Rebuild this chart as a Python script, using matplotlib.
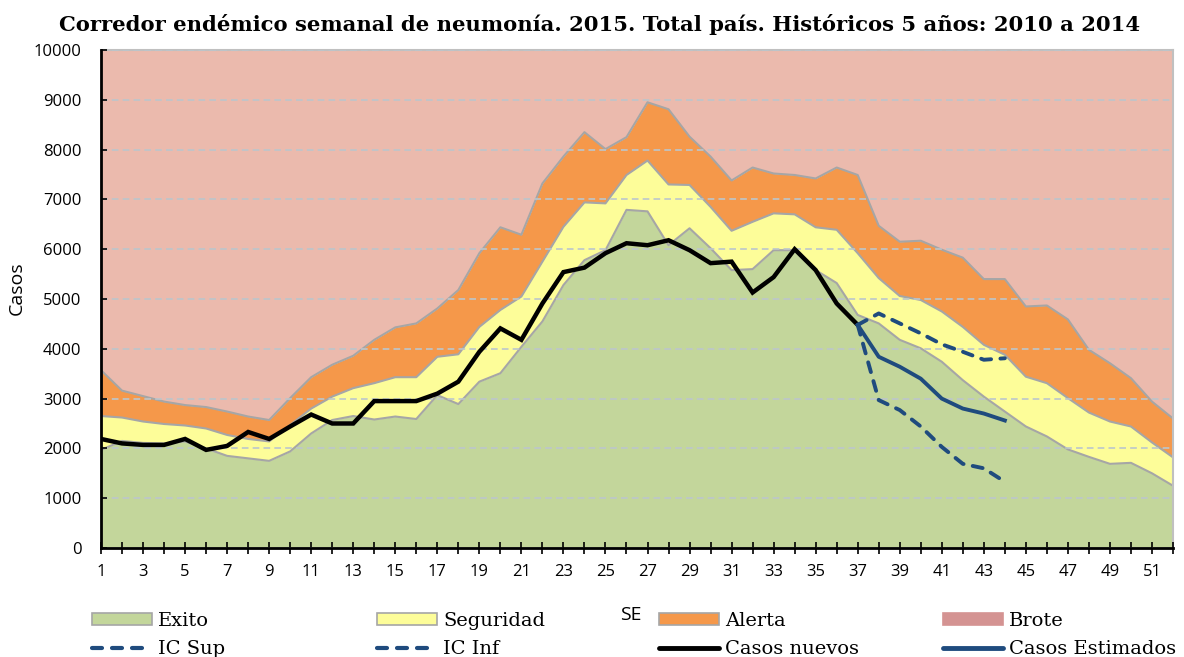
import matplotlib
matplotlib.use("Agg")
import matplotlib.pyplot as plt
from matplotlib.patches import Patch
from matplotlib.lines import Line2D
import numpy as np

plt.rcParams["font.family"] = ["Open Sans", "DejaVu Sans"]

weeks = list(range(1, 53))
exito = [1970, 2150, 2110, 2100, 2140, 2000, 1850, 1800, 1750, 1940, 2300, 2570, 2650, 2580,
         2640, 2590, 3070, 2890, 3340, 3510, 4040, 4550, 5280, 5780, 5980, 6790, 6760, 6080,
         6420, 6020, 5580, 5600, 5980, 5980, 5580, 5320, 4680, 4510, 4180, 4010, 3740, 3370,
         3040, 2740, 2440, 2240, 1980, 1830, 1690, 1710, 1500, 1250]
seguridad = [2650, 2620, 2540, 2490, 2460, 2400, 2270, 2190, 2140, 2470, 2800, 3040, 3210, 3310,
             3430, 3430, 3840, 3890, 4440, 4780, 5050, 5750, 6450, 6940, 6920, 7490, 7780, 7300,
             7290, 6850, 6370, 6550, 6720, 6700, 6440, 6390, 5920, 5420, 5060, 4980, 4750, 4440,
             4080, 3880, 3440, 3310, 3010, 2720, 2540, 2440, 2120, 1820]
alerta = [3570, 3160, 3050, 2940, 2870, 2830, 2740, 2640, 2570, 3010, 3430, 3680, 3860, 4180,
          4430, 4510, 4810, 5180, 5920, 6440, 6290, 7320, 7860, 8350, 8010, 8250, 8950, 8810,
          8260, 7860, 7380, 7640, 7520, 7490, 7420, 7640, 7490, 6470, 6150, 6170, 5990, 5830,
          5400, 5400, 4850, 4870, 4590, 3980, 3710, 3410, 2940, 2600]
brote_top = 10000

weeks_nuevos = list(range(1, 38))
casos_nuevos = [2190, 2100, 2070, 2070, 2190, 1970, 2050, 2330, 2190, 2440, 2680, 2500, 2500,
                2950, 2950, 2950, 3100, 3340, 3940, 4410, 4180, 4910, 5540, 5630, 5920, 6120,
                6080, 6180, 5980, 5720, 5750, 5130, 5440, 6000, 5580, 4910, 4480]
weeks_est = list(range(37, 45))
casos_estimados = [4480, 3840, 3640, 3400, 3000, 2800, 2700, 2560]
ic_sup = [4480, 4710, 4510, 4310, 4090, 3940, 3780, 3810]
ic_inf = [4480, 2970, 2770, 2440, 2030, 1690, 1600, 1330]

title = "Corredor endémico semanal de neumonía. 2015. Total país. Históricos 5 años: 2010 a 2014"

c_green = "#C3D69B"
c_yellow = "#FDFD99"
c_orange = "#F5984A"
c_brote = "#EBBAAD"
c_brote_leg = "#D49392"
c_edge = "#A6A6A6"
c_blue = "#1F4B7E"

W, H = 1184, 657
fig = plt.figure(figsize=(W / 100, H / 100), dpi=100)
ax = fig.add_axes([101 / W, 109 / H, 1072 / W, 498 / H])

x = np.array(weeks)
ex = np.array(exito)
se = np.array(seguridad)
al = np.array(alerta)
ax.fill_between(x, al, brote_top, color=c_brote, lw=0, zorder=1)
ax.fill_between(x, se, al, color=c_orange, lw=0, zorder=1)
ax.fill_between(x, ex, se, color=c_yellow, lw=0, zorder=1)
ax.fill_between(x, 0, ex, color=c_green, lw=0, zorder=1)
for arr in (ex, se, al):
    ax.plot(x, arr, color=c_edge, lw=1.5, zorder=2)

ax.set_xlim(1, 52)
ax.set_ylim(0, 10000)
ax.set_yticks(range(0, 10001, 1000))
ax.grid(axis="y", color="#BCC6CC", lw=1.2, ls=(0, (4, 2.5)), zorder=3)
ax.set_axisbelow(False)

dash = (0, (2.6, 2.4))
ax.plot(weeks_nuevos, casos_nuevos, color="black", lw=3.2, zorder=5, solid_joinstyle="miter")
ax.plot(weeks_est, casos_estimados, color=c_blue, lw=2.8, zorder=5)
ax.plot(weeks_est, ic_sup, color=c_blue, lw=2.8, ls=dash, dash_capstyle="round", zorder=5)
ax.plot(weeks_est, ic_inf, color=c_blue, lw=2.8, ls=dash, dash_capstyle="round", zorder=5)

ax.set_xticks(weeks)
ax.set_xticklabels([str(w) if w % 2 == 1 else "" for w in weeks])
ax.tick_params(axis="x", direction="inout", length=9, width=1.2, color="black", pad=7,
               labelsize=12)
ax.tick_params(axis="y", direction="in", length=4, width=1.2, color="black", pad=14,
               labelsize=12)

for s in ("left", "bottom"):
    ax.spines[s].set_color("black")
    ax.spines[s].set_linewidth(2)
    ax.spines[s].set_zorder(6)
for s in ("top", "right"):
    ax.spines[s].set_color("#C0C0C0")
    ax.spines[s].set_linewidth(1.5)

ax.set_ylabel("Casos", fontsize=14)
ax.yaxis.set_label_coords(-0.0784, 0.522)
ax.set_xlabel("SE", fontsize=14)
ax.xaxis.set_label_coords(0.494, -0.1345)
ax.xaxis.label.set_va("center")
ax.yaxis.label.set_va("center")

fig.text(600 / W, 1 - 31 / H, title, ha="center", va="baseline", fontsize=15.2,
         fontweight="bold", family=["DejaVu Serif"])

leg_font = {"family": ["DejaVu Serif"], "size": 14}
fs_px = 14 * 100 / 72
entries = [
    (Patch(facecolor=c_green, edgecolor=c_edge, lw=1.2), "Exito",
     Line2D([], [], color=c_blue, lw=3, ls=(0, (2.4, 2.4)), dash_capstyle="round"), "IC Sup"),
    (Patch(facecolor=c_yellow, edgecolor=c_edge, lw=1.2), "Seguridad",
     Line2D([], [], color=c_blue, lw=3, ls=(0, (2.4, 2.4)), dash_capstyle="round"), "IC Inf"),
    (Patch(facecolor=c_orange, edgecolor=c_edge, lw=1.2), "Alerta",
     Line2D([], [], color="black", lw=3.5, solid_capstyle="round"), "Casos nuevos"),
    (Patch(facecolor=c_brote_leg, edgecolor=c_brote_leg, lw=1.2), "Brote",
     Line2D([], [], color=c_blue, lw=3.5, solid_capstyle="round"), "Casos Estimados"),
]
xs = [92, 377, 659, 943]
for xp, (h1, l1, h2, l2) in zip(xs, entries):
    fig.legend([h1, h2], [l1, l2], loc="center left",
               bbox_to_anchor=(xp / W, 22 / H), bbox_transform=fig.transFigure,
               frameon=False, prop=leg_font, borderpad=0, borderaxespad=0,
               handlelength=60 / fs_px, handleheight=0.6, handletextpad=6 / fs_px,
               labelspacing=0.55)

fig.savefig("out.png", dpi=100)
